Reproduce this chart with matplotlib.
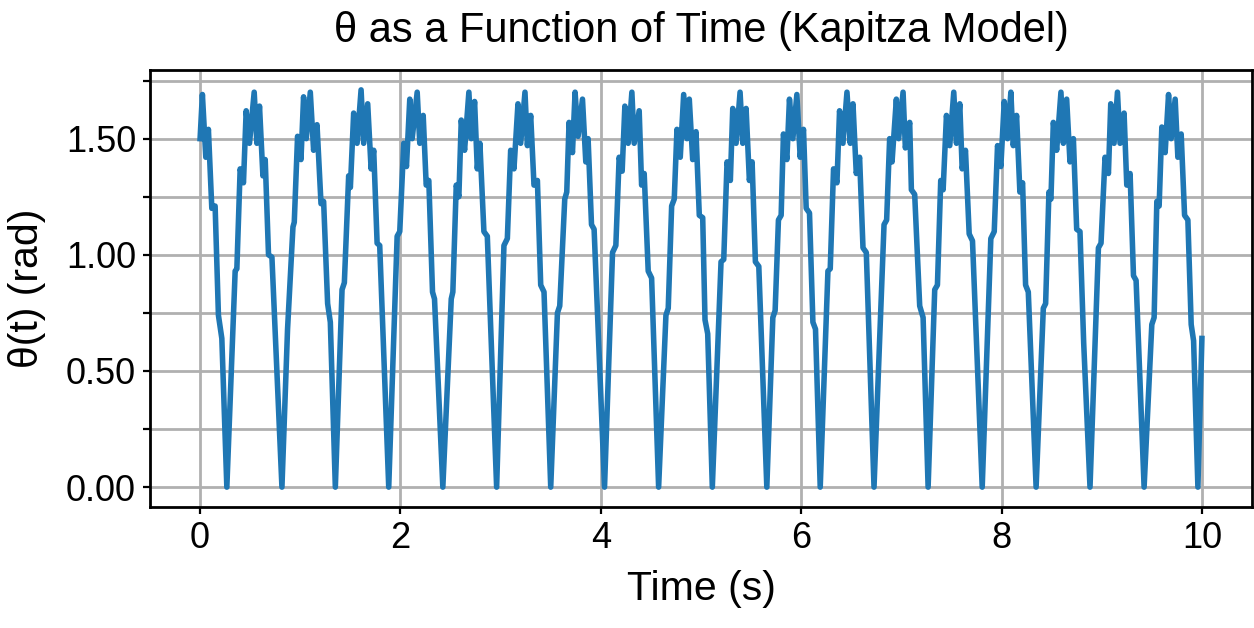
import matplotlib
matplotlib.use("Agg")
import matplotlib.pyplot as plt
from matplotlib.ticker import MultipleLocator, FormatStrFormatter

# ---- data ----
time_s = [
    0.000, 0.023, 0.057, 0.083, 0.117, 0.150, 0.183, 0.217, 0.267,
    0.350, 0.367, 0.400, 0.433, 0.460, 0.493, 0.540, 0.567, 0.593, 0.627, 0.650, 0.683, 0.717, 0.817,
    0.873, 0.927, 0.940, 0.973, 1.007, 1.033, 1.060, 1.100, 1.133, 1.167, 1.207, 1.233, 1.273, 1.300, 1.350,
    1.417, 1.440, 1.483, 1.500, 1.533, 1.567, 1.607, 1.633, 1.673, 1.707, 1.733, 1.767, 1.793, 1.883,
    1.967, 1.993, 2.033, 2.060, 2.093, 2.117, 2.167, 2.193, 2.227, 2.257, 2.283, 2.320, 2.340, 2.423,
    2.507, 2.523, 2.557, 2.583, 2.607, 2.640, 2.683, 2.707, 2.740, 2.767, 2.793, 2.833, 2.867, 2.960,
    3.033, 3.067, 3.100, 3.133, 3.173, 3.200, 3.243, 3.267, 3.300, 3.333, 3.367, 3.400, 3.433, 3.500,
    3.567, 3.590, 3.640, 3.660, 3.683, 3.717, 3.743, 3.773, 3.817, 3.850, 3.873, 3.907, 3.933, 4.037,
    4.117, 4.150, 4.183, 4.213, 4.240, 4.273, 4.310, 4.333, 4.383, 4.407, 4.433, 4.473, 4.507, 4.577,
    4.650, 4.673, 4.707, 4.733, 4.760, 4.793, 4.827, 4.860, 4.883, 4.917, 4.950, 4.983, 5.017, 5.040, 5.067, 5.113,
    5.200, 5.227, 5.260, 5.293, 5.317, 5.350, 5.390, 5.417, 5.450, 5.483, 5.510, 5.543, 5.577, 5.657,
    5.717, 5.740, 5.773, 5.800, 5.823, 5.857, 5.883, 5.917, 5.957, 5.990, 6.023, 6.050, 6.083, 6.117, 6.143, 6.190,
    6.267, 6.290, 6.323, 6.357, 6.383, 6.417, 6.457, 6.490, 6.517, 6.550, 6.583, 6.617, 6.650, 6.727,
    6.827, 6.853, 6.883, 6.907, 6.950, 6.973, 7.017, 7.040, 7.083, 7.100, 7.133, 7.183, 7.217, 7.267,
    7.333, 7.360, 7.393, 7.417, 7.450, 7.483, 7.523, 7.550, 7.583, 7.607, 7.640, 7.677, 7.710, 7.807,
    7.893, 7.927, 7.960, 7.993, 8.027, 8.060, 8.093, 8.117, 8.150, 8.183, 8.210, 8.240, 8.267, 8.345,
    8.417, 8.440, 8.473, 8.493, 8.517, 8.550, 8.593, 8.617, 8.650, 8.683, 8.717, 8.750, 8.783, 8.820, 8.883,
    8.967, 8.993, 9.033, 9.067, 9.090, 9.123, 9.157, 9.183, 9.223, 9.250, 9.283, 9.317, 9.343, 9.423,
    9.500, 9.523, 9.550, 9.573, 9.600, 9.633, 9.667, 9.693, 9.733, 9.760, 9.793, 9.827, 9.860, 9.893, 9.917, 9.960,
    10.000,
]

theta_rad = [
    1.50, 1.69, 1.42, 1.54, 1.20, 1.21, 0.74, 0.64, 0.00,
    0.93, 0.94, 1.37, 1.31, 1.62, 1.48, 1.70, 1.48, 1.64, 1.34, 1.41, 1.00, 0.99, 0.00,
    0.68, 1.12, 1.14, 1.51, 1.41, 1.68, 1.50, 1.70, 1.45, 1.56, 1.22, 1.23, 0.79, 0.71, 0.00,
    0.85, 0.88, 1.34, 1.29, 1.61, 1.48, 1.71, 1.48, 1.65, 1.37, 1.45, 1.05, 1.04, 0.00,
    1.08, 1.10, 1.48, 1.38, 1.67, 1.50, 1.70, 1.48, 1.60, 1.30, 1.32, 0.84, 0.81, 0.00,
    0.81, 0.84, 1.30, 1.25, 1.58, 1.45, 1.70, 1.50, 1.66, 1.37, 1.48, 1.10, 1.08, 0.00,
    1.04, 1.07, 1.45, 1.37, 1.65, 1.48, 1.70, 1.47, 1.60, 1.30, 1.32, 0.87, 0.84, 0.00,
    0.75, 0.78, 1.24, 1.27, 1.57, 1.44, 1.70, 1.51, 1.67, 1.40, 1.50, 1.13, 1.11, 0.00,
    1.01, 1.04, 1.42, 1.36, 1.64, 1.48, 1.70, 1.48, 1.62, 1.30, 1.35, 0.93, 0.90, 0.00,
    0.74, 0.77, 1.21, 1.24, 1.54, 1.42, 1.69, 1.50, 1.67, 1.41, 1.53, 1.17, 1.16, 0.72, 0.66, 0.00,
    0.97, 0.98, 1.40, 1.32, 1.63, 1.48, 1.70, 1.48, 1.63, 1.32, 1.40, 0.97, 0.95, 0.00,
    0.73, 0.76, 1.15, 1.17, 1.52, 1.41, 1.67, 1.50, 1.69, 1.42, 1.54, 1.20, 1.18, 0.71, 0.68, 0.00,
    0.93, 0.94, 1.37, 1.31, 1.62, 1.48, 1.70, 1.48, 1.65, 1.35, 1.42, 1.03, 1.01, 0.00,
    1.13, 1.15, 1.50, 1.40, 1.67, 1.50, 1.70, 1.46, 1.57, 1.28, 1.26, 0.78, 0.73, 0.00,
    0.85, 0.87, 1.32, 1.28, 1.60, 1.47, 1.70, 1.48, 1.65, 1.37, 1.45, 1.09, 1.06, 0.00,
    1.07, 1.10, 1.47, 1.38, 1.66, 1.50, 1.70, 1.47, 1.60, 1.27, 1.31, 0.87, 0.84, 0.00,
    0.77, 0.79, 1.27, 1.24, 1.57, 1.45, 1.70, 1.48, 1.67, 1.40, 1.50, 1.11, 1.10, 0.62, 0.00,
    1.03, 1.05, 1.42, 1.35, 1.65, 1.48, 1.70, 1.48, 1.61, 1.30, 1.35, 0.91, 0.89, 0.00,
    0.70, 0.73, 1.23, 1.21, 1.55, 1.44, 1.69, 1.50, 1.67, 1.42, 1.52, 1.17, 1.15, 0.70, 0.63, 0.00,
    0.64,
]

title_text = "θ as a Function of Time (Kapitza Model)"
x_label = "Time (s)"
y_label = "θ(t) (rad)"

plt.rcParams['font.family'] = ['Liberation Sans', 'DejaVu Sans']

fig = plt.figure(figsize=(12.54, 6.28), dpi=100)
ax = fig.add_axes([150 / 1254, 121 / 628, 1102 / 1254, 437 / 628])

ax.plot(time_s, theta_rad, color='#1f77b4', linewidth=4.0, solid_joinstyle='round', zorder=3)

ax.set_xticks([0, 2, 4, 6, 8, 10])
ax.yaxis.set_major_locator(MultipleLocator(0.5))
ax.yaxis.set_minor_locator(MultipleLocator(0.25))
ax.yaxis.set_major_formatter(FormatStrFormatter('%.2f'))

ax.grid(True, which='major', color='#b0b0b0', linewidth=2.0)
ax.grid(True, which='minor', axis='y', color='#b0b0b0', linewidth=2.0)
ax.set_axisbelow(True)

for s in ax.spines.values():
    s.set_linewidth(2.0)

ax.tick_params(axis='both', which='major', labelsize=26, length=5, width=1.6, pad=5)
ax.tick_params(axis='y', which='minor', length=5, width=1.6)

ax.set_title(title_text, fontsize=30, pad=20)
ax.set_xlabel(x_label, fontsize=29.5, labelpad=10)
ax.set_ylabel(y_label, fontsize=29.5, labelpad=14)

fig.savefig("out.png", dpi=100)
